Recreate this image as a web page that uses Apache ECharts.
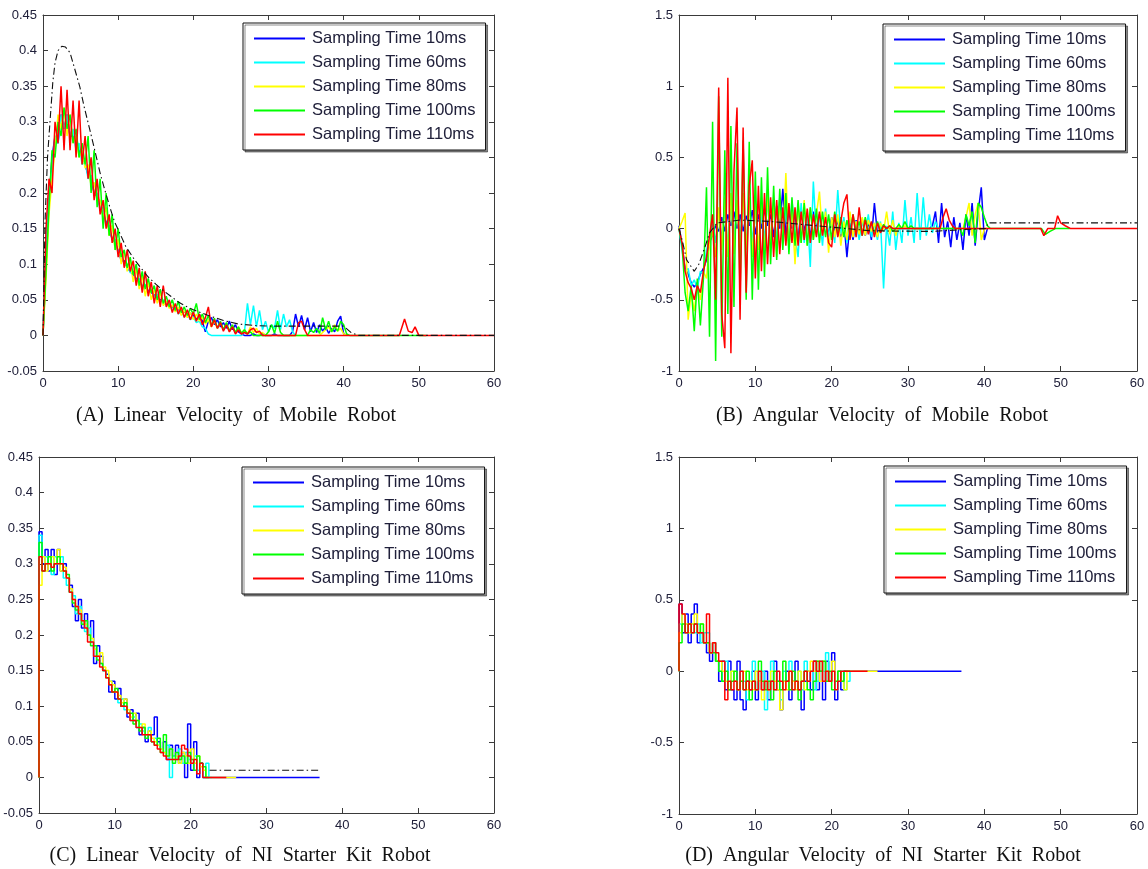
<!DOCTYPE html>
<html><head><meta charset="utf-8">
<script src="https://cdn.jsdelivr.net/npm/echarts@6/dist/echarts.min.js"></script>
<style>html,body{margin:0;padding:0;background:#fff}#c{width:1148px;height:869px}</style>
</head><body><div id="c"></div>
<script>
// ---------- labels ----------
const seriesNames = ['Sampling Time 10ms','Sampling Time 60ms','Sampling Time 80ms','Sampling Time 100ms','Sampling Time 110ms'];
const captions = ['(A)  Linear  Velocity  of  Mobile  Robot','(B)  Angular  Velocity  of  Mobile  Robot','(C)  Linear  Velocity  of  NI  Starter  Kit  Robot','(D)  Angular  Velocity  of  NI  Starter  Kit  Robot'];
// axis ranges [min, max, interval]
const xRange = [0, 60, 10];
const yRangeLinear = [-0.05, 0.45, 0.05];
const yRangeAngular = [-1, 1.5, 0.5];
// sample spacing (s) of the value arrays
const sampleStep = 0.4;

// ---------- (A) linear velocity, mobile robot ----------
const A_blue = [0,0.10,0.19,0.25,0.28,0.27,0.31,0.29,0.31,0.28,
 0.28,0.27,0.26,0.25,0.24,0.225,0.22,0.20,0.195,0.18,
 0.17,0.16,0.15,0.135,0.13,0.12,0.105,0.105,0.095,0.09,
 0.085,0.08,0.075,0.07,0.068,0.063,0.06,0.057,0.052,0.05,
 0.047,0.045,0.043,0.04,0.039,0.036,0.034,0.033,0.03,0.031,
 0.028,0.022,0.03,0.02,0.005,0.02,0.025,0.015,0.022,0.012,
 0.018,0.01,0.02,0.008,0.015,0.005,0.002,0,0,0,
 0.002,0,0,0.003,0,0,0,0.002,0,0,
 0,0,0,0.005,0.03,0.012,0.028,0.008,0.025,0.005,
 0.018,0.004,0.015,0.006,0.012,0.003,0.01,0.005,0.02,0.027,
 0.002,0];
const A_blue_tail = [];
const A_cyan = [0,0.14,0.20,0.23,0.28,0.27,0.31,0.29,0.31,0.28,
 0.29,0.26,0.27,0.24,0.245,0.22,0.225,0.20,0.20,0.175,
 0.18,0.155,0.155,0.135,0.135,0.115,0.115,0.10,0.10,0.088,
 0.09,0.077,0.08,0.068,0.072,0.06,0.064,0.054,0.058,0.047,
 0.05,0.042,0.045,0.036,0.04,0.03,0.034,0.026,0.03,0.022,
 0.026,0.018,0.02,0.012,0.01,0.002,0,0,0,0,
 0,0,0,0,0,0,0,0.005,0.045,0.015,
 0.042,0.012,0.035,0.008,0.02,0.005,0.015,0.01,0.035,0.008,
 0.03,0.012,0.022,0.005,0];
const A_cyan_tail = [];
const A_yellow = [0,0.08,0.17,0.22,0.26,0.31,0.29,0.32,0.28,0.31,
 0.27,0.28,0.25,0.26,0.235,0.24,0.21,0.215,0.19,0.19,
 0.165,0.18,0.14,0.155,0.12,0.135,0.10,0.12,0.09,0.105,
 0.075,0.095,0.065,0.085,0.055,0.075,0.05,0.065,0.045,0.06,
 0.042,0.048,0.038,0.043,0.033,0.04,0.028,0.035,0.025,0.032,
 0.022,0.03,0.02,0.026,0.016,0.022,0.012,0.02,0.01,0.018,
 0.008,0.016,0.006,0.014,0.004,0.012,0.003,0.008,0.002,0.012,
 0.004,0.01,0.002,0.004,0,0,0,0,0,0,
 0,0,0,0,0,0,0,0,0,0,
 0,0,0,0.004,0.008,0.012,0.005,0.015,0.006,0.01,
 0.002,0];
const A_yellow_tail = [];
const A_green = [0,0.09,0.18,0.26,0.25,0.30,0.28,0.32,0.29,0.31,
 0.27,0.29,0.25,0.27,0.24,0.28,0.20,0.26,0.18,0.22,
 0.15,0.20,0.14,0.17,0.12,0.15,0.11,0.12,0.095,0.11,
 0.085,0.10,0.07,0.09,0.065,0.08,0.06,0.07,0.05,0.065,
 0.045,0.055,0.04,0.05,0.035,0.048,0.032,0.04,0.028,0.038,
 0.03,0.045,0.022,0.03,0.018,0.028,0.014,0.024,0.01,0.02,
 0.008,0.018,0.006,0.015,0.004,0.012,0.003,0.008,0.002,0.005,
 0,0,0,0,0,0.005,0.015,0.003,0.02,0.004,
 0,0,0,0,0,0,0,0,0,0.008,
 0.004,0.01,0.003,0.025,0.008,0.02,0.005,0.012,0.006,0.02,
 0.015,0.002,0];
const A_green_tail = [[51,0]];
const A_red = [0,0.15,0.22,0.20,0.30,0.27,0.35,0.26,0.345,0.26,
 0.33,0.25,0.33,0.24,0.28,0.22,0.25,0.19,0.22,0.17,
 0.19,0.15,0.17,0.13,0.15,0.11,0.13,0.095,0.12,0.09,
 0.105,0.07,0.095,0.06,0.09,0.055,0.075,0.045,0.07,0.04,
 0.07,0.04,0.05,0.032,0.045,0.03,0.04,0.025,0.036,0.022,
 0.033,0.02,0.03,0.015,0.025,0.04,0.012,0.022,0.01,0.018,
 0.006,0.015,0.005,0.012,0.002,0.008,0.002,0.004,0.002,0.008,
 0.01,0.004,0.006,0,0,0,0,0,0,0,
 0,0,0,0,0,0.018,0.02,0.008,0,0,
 0];
const A_red_tail = [[47.4,0],[48.1,0.023],[48.6,0.006],[49.1,0.004],[49.5,0.012],[50,0],[60,0]];
const A_ref = [[0,0],[0.27,0.16],[0.6,0.25],[0.93,0.30],[1.3,0.355],[1.6,0.383],[2,0.40],[2.5,0.406],[3,0.405],[3.6,0.397],[4.2,0.375],[4.9,0.349],[5.5,0.32],[6.25,0.288],[7,0.255],[7.6,0.228],[8.2,0.205],[8.9,0.18],[9.5,0.16],[10.2,0.144],[11,0.125],[12.2,0.106],[13,0.095],[14,0.082],[15,0.072],[16,0.063],[17,0.055],[18,0.047],[19,0.041],[20,0.036],[22,0.028],[24,0.021],[26,0.016],[28,0.014],[30,0.013],[40,0.013],[41,0.004],[42,0],[60,0]];

// ---------- (B) angular velocity, mobile robot ----------
const B_blue = [0.02,-0.12,-0.28,-0.32,-0.38,-0.41,-0.38,-0.32,-0.28,-0.22,
 -0.10,-0.04,0.02,-0.02,0.08,-0.02,0.10,0.02,0.12,0,
 0.10,-0.02,0.09,0.02,0.13,-0.04,0.10,0,0.14,0.02,
 0.10,-0.06,0.16,0,0.28,-0.05,0.12,0,0.10,-0.08,
 0.14,-0.02,0.08,-0.06,0.12,0,0.10,-0.04,0.09,-0.05,
 0.08,-0.02,0.06,-0.06,0.05,-0.20,0.04,-0.08,0.06,-0.04,
 0.07,-0.05,0.05,-0.08,0.18,-0.04,0.02,-0.02,0.01,0,
 0,0,0,0,0,0,0,0,0,0,
 0,0,0,0.02,0.12,-0.10,0.18,-0.06,0.05,-0.13,
 0.08,-0.08,0.04,-0.15,0.10,-0.05,0.18,-0.12,0.12,0.29,
 -0.08];
const B_blue_tail = [[40.4,0]];
const B_cyan = [0,-0.15,-0.30,-0.28,-0.40,-0.36,-0.42,-0.30,-0.32,-0.15,
 -0.08,0.05,-0.10,0.12,-0.08,0.15,-0.12,0.18,-0.10,0.16,
 -0.08,0.20,-0.12,0.18,-0.10,0.15,-0.15,0.12,-0.08,0.20,
 -0.12,0.18,-0.10,0.22,-0.06,0.15,-0.12,0.20,-0.05,-0.20,
 0.18,-0.10,0.12,-0.27,0.33,-0.05,0.10,-0.12,0.14,-0.06,
 0.05,-0.10,0.27,-0.04,0.08,-0.10,0.10,-0.06,0.05,-0.08,
 0.06,-0.04,0.10,-0.06,0.04,-0.08,0.05,-0.42,0.02,-0.12,
 0.12,-0.15,0.04,-0.10,0.20,-0.05,0.08,-0.10,0.25,-0.08,
 0.22,-0.05,0.10,-0.03,0.05,0];
const B_cyan_tail = [];
const B_yellow = [0,0.05,0.11,-0.64,-0.45,-0.58,-0.40,-0.50,-0.30,-0.35,
 -0.10,-0.02,-0.20,0.15,-0.15,0.22,-0.20,0.25,-0.18,0.20,
 -0.22,0.25,-0.15,0.22,-0.20,0.18,-0.15,0.22,-0.18,0.25,
 -0.12,0.20,-0.20,0.18,-0.10,0.39,-0.15,0.15,-0.25,0.18,
 -0.10,0.20,-0.12,0.15,-0.08,0.10,0.26,-0.05,0.12,-0.17,
 0.08,-0.06,0.10,-0.12,0.05,-0.08,0.12,-0.06,0.05,-0.04,
 0.08,-0.05,0.06,-0.02,0.04,-0.06,0.04,-0.02,0.12,-0.04,
 0.06,-0.05,0.03,0,0.02,0,0,0,0,0,
 0,0,0,0,0,0,0,0,0,0,
 0,0,0,0,0.08,0.18,-0.05,0.10,0.18,-0.08,
 0];
const B_yellow_tail = [[40.4,0]];
const B_green = [0,-0.12,-0.45,-0.58,-0.40,-0.72,-0.35,-0.68,-0.35,0.29,
 -0.76,0.75,-0.93,0.93,-0.76,0.55,-0.60,0.72,-0.55,0.60,
 -0.45,0.62,-0.50,0.61,-0.50,0.40,-0.43,0.36,-0.34,0.43,
 -0.25,0.30,-0.22,0.28,-0.15,0.25,-0.18,0.22,-0.12,0.20,
 -0.10,0.18,-0.12,0.15,-0.08,0.14,-0.10,0.12,-0.06,0.10,
 -0.08,0.12,-0.05,0.08,-0.06,0.06,-0.04,0.10,-0.03,0.05,
 -0.05,0.08,-0.02,0.04,-0.03,0.05,-0.02,0.03,0,0.02,
 -0.02,0,0.03,0,0.05,0,0.02,0,0,0,
 0,0,0,0,0,0,0,0,0,0,
 0,0,0,-0.05,0.10,0.02,0.12,-0.10,0.18,0.15,
 0.08,0.02,0];
const B_green_tail = [[47.5,0],[48,-0.04],[48.6,-0.02],[49.3,0],[51.2,0]];
const B_red = [0,-0.10,-0.30,-0.38,-0.42,-0.50,-0.40,-0.45,-0.30,-0.20,
 -0.05,0.10,-0.50,0.99,-0.60,-0.84,1.06,-0.875,0.40,0.85,
 -0.64,0.71,-0.45,0.30,0.48,-0.35,0.30,-0.30,0.25,-0.25,
 0.22,-0.20,0.20,-0.18,0.15,-0.12,0.18,-0.10,0.15,-0.12,
 0.12,-0.08,0.14,-0.10,0.10,-0.06,0.12,-0.05,0.08,-0.10,
 -0.13,0.10,-0.06,0.05,0.18,0.24,-0.08,0.10,-0.06,0.15,
 -0.05,0.06,-0.04,0.05,-0.06,0.04,-0.03,0.02,0,0.02,
 0,0];
const B_red_tail = [[34.2,0],[34.6,0.08],[35,0.14],[35.4,0.06],[35.8,0.02],[36.2,0],[47.4,0],[47.8,-0.05],[48.3,0],[49.2,0],[49.6,0.09],[50,0.04],[50.6,0.02],[51.3,0],[60,0]];
const B_ref = [[0,0],[0.5,-0.1],[1,-0.22],[2,-0.3],[2.6,-0.25],[3.4,-0.13],[4,-0.03],[5,0.04],[8,0.06],[12,0.05],[16,0.03],[20,0.01],[25,-0.015],[33,-0.02],[38,-0.005],[40.2,0],[40.5,0.04],[60,0.04]];

// ---------- (C) linear velocity, NI starter kit ----------
const C_blue = [0,0.345,0.30,0.32,0.29,0.32,0.285,0.32,0.29,0.30,
 0.28,0.27,0.24,0.22,0.25,0.21,0.23,0.20,0.22,0.16,
 0.185,0.17,0.15,0.145,0.12,0.135,0.11,0.125,0.10,0.11,
 0.085,0.095,0.08,0.09,0.06,0.07,0.05,0.065,0.06,0.085,
 0.05,0.04,0.05,0.025,0.045,0.03,0.045,0.02,0.035,0,
 0.075,0.01,0.05,0,0.02,0];
const C_blue_tail = [[37,0]];
const C_cyan = [0,0.34,0.29,0.31,0.30,0.285,0.31,0.30,0.31,0.28,
 0.27,0.26,0.255,0.23,0.24,0.22,0.205,0.21,0.19,0.18,
 0.17,0.16,0.15,0.14,0.135,0.12,0.12,0.105,0.11,0.095,
 0.09,0.08,0.085,0.07,0.075,0.065,0.06,0.07,0.05,0.055,
 0.045,0.04,0.035,0.045,0,0.03,0.025,0.04,0.02,0.035,
 0.025,0.02,0.03,0.01,0.02,0,0.02,0];
const C_cyan_tail = [];
const C_yellow = [0,0.27,0.31,0.29,0.30,0.31,0.30,0.32,0.29,0.295,
 0.28,0.265,0.25,0.24,0.235,0.22,0.215,0.20,0.195,0.18,
 0.17,0.175,0.155,0.15,0.135,0.13,0.12,0.115,0.105,0.11,
 0.095,0.085,0.09,0.08,0.07,0.075,0.06,0.065,0.055,0.05,
 0.045,0.04,0.035,0.03,0.04,0.025,0.03,0.02,0.035,0.03,
 0.02,0.04,0.02,0.03,0.015,0.01,0];
const C_yellow_tail = [[26,0]];
const C_green = [0,0.33,0.29,0.30,0.31,0.29,0.30,0.31,0.30,0.29,
 0.285,0.26,0.245,0.235,0.23,0.215,0.22,0.20,0.185,0.185,
 0.165,0.16,0.15,0.14,0.13,0.12,0.125,0.11,0.10,0.105,
 0.09,0.09,0.075,0.08,0.065,0.07,0.055,0.06,0.05,0.045,
 0.055,0.035,0.06,0.03,0.04,0.02,0.035,0.025,0.03,0.02,
 0.035,0.025,0.01,0.03,0.02,0.015,0];
const C_green_tail = [];
const C_red = [0,0.31,0.29,0.30,0.30,0.295,0.30,0.30,0.30,0.29,
 0.28,0.26,0.25,0.24,0.23,0.22,0.21,0.19,0.19,0.17,
 0.17,0.155,0.15,0.14,0.13,0.12,0.12,0.11,0.10,0.10,
 0.09,0.08,0.08,0.07,0.07,0.06,0.06,0.06,0.05,0.045,
 0.04,0.035,0.03,0.025,0.025,0.025,0.025,0.03,0.045,0.04,
 0.03,0.02,0.025,0.005,0.02,0];
const C_red_tail = [[24.7,0]];
const C_ref = [[22.5,0.01],[37,0.01]];

// ---------- (D) angular velocity, NI starter kit ----------
const D_blue = [0,0.47,0.27,0.40,0.20,0.40,0.47,0.20,0.27,0.20,
 0.13,0.07,0.20,0.07,-0.07,0.07,-0.13,0.07,-0.13,-0.20,
 0.07,-0.20,-0.27,-0.07,-0.13,0,-0.20,-0.07,-0.13,0,
 -0.20,-0.07,0.07,-0.13,-0.27,-0.07,0,-0.20,-0.07,0.07,
 -0.13,-0.27,-0.07,0,-0.13,0.07,-0.13,0,-0.20,0.07,
 -0.07,0.13,-0.20,0,-0.13,0];
const D_blue_tail = [[37,0]];
const D_cyan = [0,0.33,0.40,0.33,0.27,0.33,0.27,0.33,0.20,0.27,
 0.27,0.13,0.20,0.07,0.07,-0.07,0.07,-0.13,0,-0.07,
 -0.13,0,-0.07,-0.20,-0.07,0.07,-0.13,-0.07,0,-0.27,
 -0.07,0.07,-0.13,-0.07,-0.20,0,-0.07,0.07,-0.13,-0.07,
 0,-0.13,0.07,-0.07,0,-0.13,-0.07,0.07,0,0.13,
 -0.07,0,-0.13,-0.07,0,-0.13,-0.07,0];
const D_cyan_tail = [];
const D_yellow = [0,0.27,0.40,0.33,0.27,0.33,0.40,0.27,0.33,0.20,
 0.20,0.13,0.20,0.07,0.07,0,-0.07,-0.13,0,-0.07,
 -0.13,-0.07,0,-0.13,-0.07,-0.13,0,-0.07,-0.20,-0.07,
 -0.13,0,-0.07,-0.13,-0.27,-0.07,-0.13,0,-0.07,-0.13,
 0,-0.07,-0.13,0,0.07,0,0.07,-0.07,0.07,0,
 -0.07,0.07,-0.07,0,-0.07,-0.13,0];
const D_yellow_tail = [[26,0]];
const D_green = [0,0.20,0.33,0.27,0.33,0.27,0.33,0.27,0.33,0.20,
 0.20,0.13,0.13,0.07,0,-0.07,0,-0.13,-0.07,0,
 -0.13,-0.07,-0.13,0,-0.20,-0.07,-0.13,0.07,-0.07,-0.13,
 -0.07,-0.20,0,-0.07,-0.13,0.07,-0.07,-0.13,0,-0.07,
 -0.20,-0.07,0,-0.13,-0.20,-0.07,0.07,0,0.07,-0.07,
 0,-0.13,-0.07,0,-0.07,0,0];
const D_green_tail = [];
const D_red = [0,0.47,0.40,0.27,0.33,0.27,0.33,0.27,0.27,0.20,
 0.40,0.13,0.20,0.13,0.07,0.07,-0.20,-0.07,-0.13,-0.07,
 -0.13,0,-0.13,-0.07,-0.13,-0.07,-0.13,0,-0.13,-0.07,
 -0.13,-0.07,-0.13,0,-0.07,-0.13,-0.07,0,-0.13,-0.07,
 -0.13,-0.07,0,-0.07,0,0.07,0,0.07,-0.07,0,
 -0.07,0,-0.13,-0.07,0,0];
const D_red_tail = [[24.7,0]];

// ---------- build ----------
const colors = ['#0000ff','#00ffff','#ffff00','#00ff00','#ff0000'];
const labelColor = '#20203a';
const axisColor = '#3a3a3a';

function mk(ys, tail) {
  const d = ys.map((y, i) => [Math.round(i * sampleStep * 100) / 100, y]);
  return d.concat(tail || []);
}

const panels = [
  {grid:{left:43, top:15, width:451, height:356}, y:yRangeLinear, step:false,
   sets:[[A_blue,A_blue_tail],[A_cyan,A_cyan_tail],[A_yellow,A_yellow_tail],[A_green,A_green_tail],[A_red,A_red_tail]], ref:A_ref,
   legend:{left:243, top:23}, cap:[236, 416]},
  {grid:{left:679, top:15, width:458, height:356}, y:yRangeAngular, step:false,
   sets:[[B_blue,B_blue_tail],[B_cyan,B_cyan_tail],[B_yellow,B_yellow_tail],[B_green,B_green_tail],[B_red,B_red_tail]], ref:B_ref,
   legend:{left:883, top:24}, cap:[882, 416]},
  {grid:{left:39, top:457, width:455, height:356}, y:yRangeLinear, step:true,
   sets:[[C_blue,C_blue_tail],[C_cyan,C_cyan_tail],[C_yellow,C_yellow_tail],[C_green,C_green_tail],[C_red,C_red_tail]], ref:C_ref,
   legend:{left:242, top:467}, cap:[240, 856]},
  {grid:{left:679, top:457, width:458, height:357}, y:yRangeAngular, step:true,
   sets:[[D_blue,D_blue_tail],[D_cyan,D_cyan_tail],[D_yellow,D_yellow_tail],[D_green,D_green_tail],[D_red,D_red_tail]], ref:null,
   legend:{left:884, top:466}, cap:[883, 856]}
];

const fmt = v => String(parseFloat(Number(v).toFixed(2)));
const grids = [], xAxes = [], yAxes = [], series = [], legends = [], graphics = [];

panels.forEach((p, k) => {
  grids.push(Object.assign({containLabel:false}, p.grid));
  const tick = {inside:true, length:5, lineStyle:{color:axisColor, width:1}};
  const line = {show:true, onZero:false, lineStyle:{color:axisColor, width:1}};
  const lab = {color:labelColor, fontSize:13, fontFamily:'Liberation Sans, Arial, sans-serif', margin:6, formatter:fmt};
  xAxes.push({gridIndex:k, type:'value', position:'bottom', min:xRange[0], max:xRange[1], interval:xRange[2],
    axisLine:line, axisTick:tick, axisLabel:lab, splitLine:{show:false}});
  xAxes.push({gridIndex:k, type:'value', position:'top', min:xRange[0], max:xRange[1], interval:xRange[2],
    axisLine:line, axisTick:tick, axisLabel:{show:false}, splitLine:{show:false}});
  yAxes.push({gridIndex:k, type:'value', position:'left', min:p.y[0], max:p.y[1], interval:p.y[2],
    axisLine:line, axisTick:tick, axisLabel:lab, splitLine:{show:false}});
  yAxes.push({gridIndex:k, type:'value', position:'right', min:p.y[0], max:p.y[1], interval:p.y[2],
    axisLine:line, axisTick:tick, axisLabel:{show:false}, splitLine:{show:false}});
  p.sets.forEach((s, j) => {
    series.push({type:'line', name:seriesNames[j], xAxisIndex:2*k, yAxisIndex:2*k,
      data:mk(s[0], s[1]), symbol:'none', showSymbol:false, step:p.step ? 'start' : false,
      lineStyle:{color:colors[j], width:1.5}, itemStyle:{color:colors[j]}, animation:false, silent:true, z:2+j});
  });
  if (p.ref) {
    series.push({type:'line', name:'reference', xAxisIndex:2*k, yAxisIndex:2*k, data:p.ref,
      symbol:'none', showSymbol:false, lineStyle:{color:'#111', width:1.1, type:[7,3,1.5,3]},
      animation:false, silent:true, z:10});
  }
  legends.push({orient:'vertical', left:p.legend.left, top:p.legend.top, data:seriesNames,
    icon:'rect', itemWidth:51, itemHeight:2, itemGap:7, padding:[7,10,7,11], selectedMode:false,
    textStyle:{fontSize:16.5, fontFamily:'Liberation Sans, Arial, sans-serif', color:labelColor, lineHeight:17, padding:[0,0,0,2]},
    backgroundColor:'#fff', borderColor:'#111', borderWidth:1,
    shadowColor:'rgba(0,0,0,0.45)', shadowOffsetX:2, shadowOffsetY:2, shadowBlur:0, z:20});
  graphics.push({type:'text', x:p.cap[0], y:p.cap[1], z:30,
    style:{text:captions[k], font:'20px "Liberation Serif", "Times New Roman", serif', fill:'#111',
      align:'center', verticalAlign:'middle', textAlign:'center', textVerticalAlign:'middle'}});
});

const chart = echarts.init(document.getElementById('c'), null, {renderer:'canvas'});
chart.setOption({
  backgroundColor:'#fff', animation:false,
  grid:grids, xAxis:xAxes, yAxis:yAxes, series:series, legend:legends, graphic:graphics
});
</script></body></html>
